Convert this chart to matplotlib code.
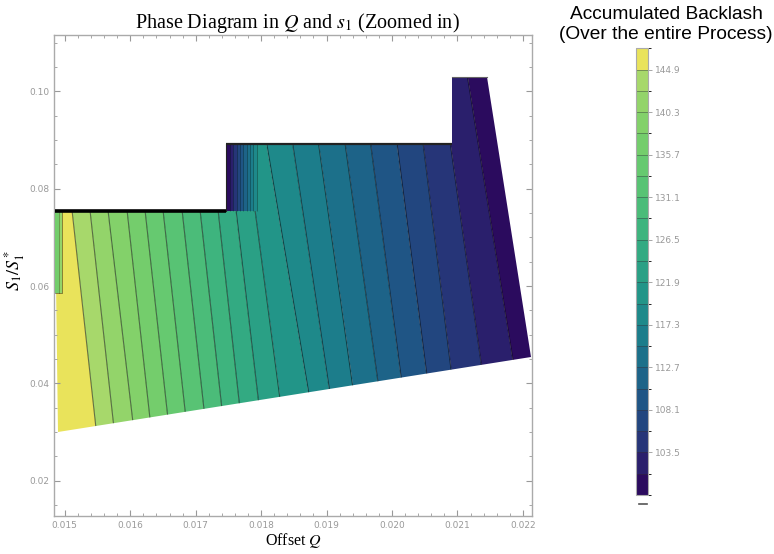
import numpy as np
import matplotlib
matplotlib.use('Agg')
import matplotlib.pyplot as plt
from matplotlib.colors import BoundaryNorm, ListedColormap
from matplotlib.patches import Polygon
from matplotlib.collections import LineCollection
from matplotlib.lines import Line2D
from matplotlib.ticker import MultipleLocator, FormatStrFormatter
import matplotlib.cm as cm

plt.rcParams['mathtext.fontset'] = 'stix'

#===============================================================================
# contour levels (accumulated backlash)
levels = [98.9, 101.2, 103.5, 105.8, 108.1, 110.4, 112.7, 115.0, 117.3, 119.6,
          121.9, 124.2, 126.5, 128.8, 131.1, 133.4, 135.7, 138.0, 140.3, 142.6,
          144.9, 147.2]
cbar_ticks = [103.5, 108.1, 112.7, 117.3, 121.9, 126.5, 131.1, 135.7, 140.3, 144.9]

# contour boundaries (left -> right): x where each crosses y = 0.075 and y = 0.047
line_y       = [0.075, 0.047]
line_x_upper = [0.015115, 0.015390, 0.015665, 0.015956, 0.016231, 0.016506,
                0.016797, 0.017072, 0.017347, 0.017622, 0.017913, 0.018265,
                0.018641, 0.019027, 0.019430, 0.019812, 0.020214, 0.020607,
                0.021040, 0.021488]
line_x_lower = [0.015344, 0.015619, 0.015910, 0.016185, 0.016460, 0.016735,
                0.017026, 0.017301, 0.017576, 0.017867, 0.018188, 0.018616,
                0.018952, 0.019320, 0.019717, 0.020084, 0.020482, 0.020864,
                0.021332, 0.021822]

# outline of the computed region
region_x = [0.01485, 0.01490, 0.02212, 0.02145, 0.02091, 0.02091, 0.01747, 0.01747]
region_y = [0.0755, 0.0300, 0.04547, 0.1029, 0.1029, 0.0892, 0.0892, 0.0755]

# steep block at the step (x boundaries, band index of each strip)
step_x    = [0.017469, 0.017530, 0.017576, 0.017637, 0.017683, 0.017729,
             0.017790, 0.017836, 0.017882, 0.017943]
step_band = [0, 1, 2, 3, 4, 5, 6, 7, 8]
step_y    = [0.0755, 0.0892]

# small strip at the left edge
strip_x    = [0.014855, 0.014908, 0.014962]
strip_band = [16, 18]
strip_y    = [0.0586, 0.0755]

# band colours, lowest band first
band_colors = ['#2b0b5e', '#2a1f6c', '#263578', '#22467f', '#1f5585', '#1d6388',
               '#1c708a', '#1c7d8b', '#1e898a', '#229588', '#2aa085', '#33aa82',
               '#3eb47e', '#4bbc79', '#58c374', '#66c970', '#74cd6c', '#83d16a',
               '#93d46a', '#a7d86b', '#e9e35b']
#===============================================================================
lv = np.array(levels)
band_mid = 0.5 * (lv[:-1] + lv[1:])
cmap = ListedColormap(band_colors)
norm = BoundaryNorm(levels, cmap.N)

def x_at(y, xu, xl):
    xu = np.asarray(xu); xl = np.asarray(xl)
    return xl + (xu - xl) * (y - line_y[1]) / (line_y[0] - line_y[1])

fig = plt.figure(figsize=(7.74, 5.54), dpi=100)
ax = fig.add_axes([0.0702, 0.069, 0.6172, 0.8686])

clip = Polygon(np.column_stack([region_x, region_y]), closed=True,
               transform=ax.transData, facecolor='none', edgecolor='none')
ax.add_patch(clip)

y_lo, y_hi = 0.025, 0.108
x_lo = np.concatenate([[0.0146], x_at(y_lo, line_x_upper, line_x_lower), [0.0226]])
x_hi = np.concatenate([[0.0146], x_at(y_hi, line_x_upper, line_x_lower), [0.0226]])
X = np.vstack([x_lo, x_hi])
Y = np.vstack([np.full_like(x_lo, y_lo), np.full_like(x_hi, y_hi)])
C = band_mid[::-1].reshape(1, -1)
mesh = ax.pcolormesh(X, Y, C, cmap=cmap, norm=norm, shading='flat',
                     antialiased=True, linewidth=0)
mesh.set_clip_path(clip)

segs = [[(a, y_lo), (b, y_hi)] for a, b in zip(x_lo[1:-1], x_hi[1:-1])]
lc = LineCollection(segs, colors='black', linewidths=0.8, alpha=0.5)
ax.add_collection(lc)
lc.set_clip_path(clip)

# step block
SX, SY = np.meshgrid(step_x, step_y)
ax.pcolormesh(SX, SY, band_mid[step_band].reshape(1, -1), cmap=cmap, norm=norm,
              shading='flat', zorder=3)
ax.add_collection(LineCollection([[(x, step_y[0]), (x, step_y[1])] for x in step_x[1:]],
                                 colors='black', linewidths=0.5, alpha=0.4, zorder=4))
# left strip
TX, TY = np.meshgrid(strip_x, strip_y)
ax.pcolormesh(TX, TY, band_mid[strip_band].reshape(1, -1), cmap=cmap, norm=norm,
              shading='flat', zorder=3)
ax.plot([strip_x[0], strip_x[-1], strip_x[-1]], [strip_y[0], strip_y[0], strip_y[1]],
        color='black', lw=0.6, alpha=0.5, zorder=4)
ax.plot([strip_x[1], strip_x[1]], strip_y, color='black', lw=0.5, alpha=0.4, zorder=4)

# bunched contours along the upper edges
ax.plot([region_x[0], region_x[7]], [region_y[0], region_y[7]], color='black', lw=2.6,
        solid_capstyle='butt', zorder=5)
ax.plot([region_x[6], region_x[5]], [region_y[6], region_y[5]], color='#222222', lw=1.6,
        solid_capstyle='butt', zorder=5)
ax.plot([region_x[6], region_x[7]], [region_y[6], region_y[7]], color='#222222', lw=0.8,
        zorder=5)
ax.plot([region_x[4], region_x[3]], [region_y[4], region_y[3]], color='#666666', lw=0.8,
        zorder=5)

ax.set_xlim(0.01484, 0.02214)
ax.set_ylim(0.0128, 0.1117)
ax.xaxis.set_major_locator(MultipleLocator(0.001))
ax.xaxis.set_minor_locator(MultipleLocator(0.0002))
ax.yaxis.set_major_locator(MultipleLocator(0.02))
ax.yaxis.set_minor_locator(MultipleLocator(0.005))
ax.xaxis.set_major_formatter(FormatStrFormatter('%.3f'))
ax.yaxis.set_major_formatter(FormatStrFormatter('%.2f'))
ax.tick_params(which='both', direction='in', top=True, right=True,
               color='#999999', labelcolor='#999999', labelsize=6.5)
ax.tick_params(which='major', length=4, width=0.8)
ax.tick_params(which='minor', length=2, width=0.6)
for s in ax.spines.values():
    s.set_color('#aaaaaa')
    s.set_linewidth(1.0)

fig.text(297/774, 1 - 28.4/554, r'Phase Diagram in $Q$ and $s_1$ (Zoomed in)',
         ha='center', va='baseline', fontsize=14.5, family='Liberation Serif')
fig.text(294/774, 1 - 541/554, r'Offset $Q$', ha='center', va='center',
         fontsize=11.5, family='Liberation Serif')
fig.text(15/774, 1 - 270/554, r'$S_1/S_1^*$', ha='center', va='center',
         rotation=90, fontsize=13, family='Liberation Serif')

# colour legend
cax = fig.add_axes([0.8217, 0.1065, 0.0155, 0.8063])
sm = cm.ScalarMappable(norm=norm, cmap=cmap)
cb = fig.colorbar(sm, cax=cax, boundaries=levels, ticks=cbar_ticks, drawedges=True)
cb.ax.yaxis.set_major_formatter(FormatStrFormatter('%.1f'))
cb.outline.set_edgecolor('#aaaaaa')
cb.outline.set_linewidth(0.8)
cb.dividers.set_color('#333333')
cb.dividers.set_alpha(0.5)
cb.dividers.set_linewidth(0.6)
cax.tick_params(length=3, width=0.6, color='#999999', labelcolor='#999999',
                labelsize=6.5, pad=2)
fig.text(666/774, 1 - 24.5/554, 'Accumulated Backlash\n(Over the entire Process)',
         ha='center', va='center', fontsize=13.8, family='Liberation Sans',
         linespacing=1.3)
fig.add_artist(Line2D([639/774, 647/774], [1 - 504/554] * 2, color='#555555', lw=1.2))

plt.savefig('out.png', dpi=100)
